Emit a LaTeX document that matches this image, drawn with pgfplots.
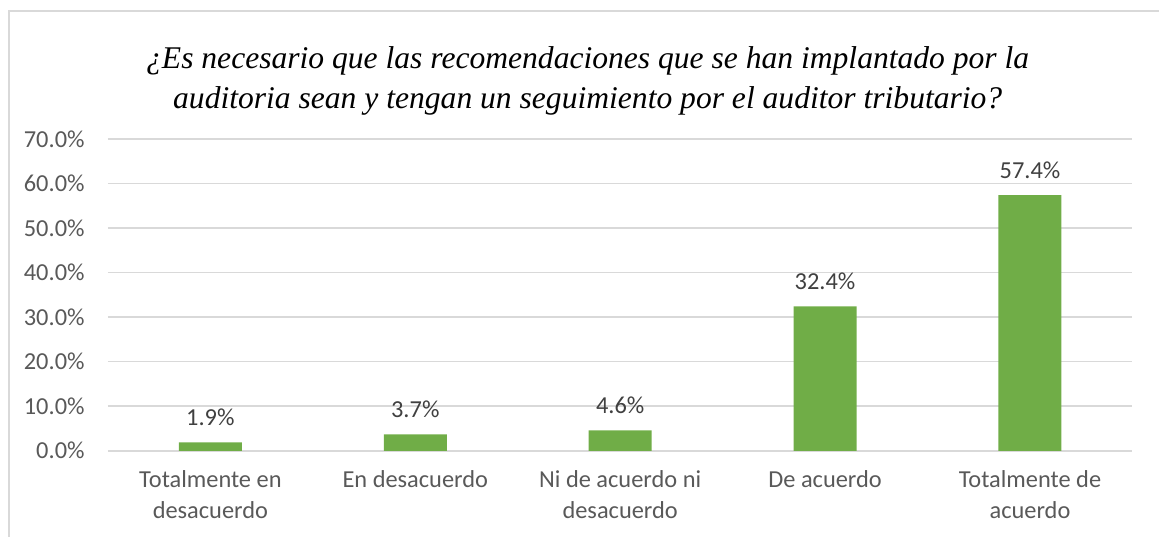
\documentclass[border=0pt]{standalone}
\usepackage{pgfplots}
\pgfplotsset{compat=1.18}
\usepackage{fontspec}
\setmainfont{Carlito}
\newfontfamily\titlefont{Liberation Serif}
\definecolor{bargreen}{HTML}{70AD47}
\definecolor{gridc}{HTML}{D9D9D9}
\definecolor{tickc}{HTML}{595959}
\definecolor{labc}{HTML}{404040}

\begin{document}
\begin{tikzpicture}
\begin{axis}[at={(0pt,0pt)}, anchor=south west, scale only axis,
  width=512.5pt, height=156pt,
  xmin=-0.5, xmax=4.5, ymin=0, ymax=70,
  ytick={0,10,...,70}, xtick={0,1,2,3,4},
  xticklabels={{Totalmente en\\desacuerdo},{En desacuerdo},{Ni de acuerdo ni\\desacuerdo},{De acuerdo},{Totalmente de\\acuerdo}},
  axis line style={draw=none}, major tick length=0pt,
  ymajorgrids, grid style={gridc, line width=0.8pt},
  /pgf/number format/assume math mode=true,
  yticklabel={\pgfmathprintnumber[fixed,fixed zerofill,precision=1]{\tick}\%},
  yticklabel style={font=\fontsize{12.2}{13}\selectfont, text=tickc, anchor=east, inner sep=0pt, xshift=-11.5pt},
  xticklabel style={font=\fontsize{12.2}{15.5}\selectfont, text=tickc, align=center, anchor=north, inner sep=0pt, yshift=-9.5pt},
  ybar, bar width=31.5pt,
  nodes near coords={\pgfmathprintnumber[fixed,fixed zerofill,precision=1]{\pgfplotspointmeta}\%},
  nodes near coords style={font=\fontsize{12.2}{13}\selectfont, text=labc, anchor=base, yshift=8.5pt, inner sep=0pt},
]
\addplot[fill=bargreen, draw=none] coordinates {(0,1.9) (1,3.7) (2,4.6) (3,32.4) (4,57.4)};
\end{axis}
% picture extent: 1160x537 px at 0.5pt per px, plot box corner at (54pt,43pt)
\path (-54pt,-43pt) rectangle (526pt,225.5pt);
% chart frame (only left and top edges fall inside the picture)
\draw[gridc, line width=0.6pt] (-49.5pt,-43pt) -- (-49.5pt,220pt) -- (526pt,220pt);
\node[font=\titlefont\itshape\fontsize{15.8}{20}\selectfont, align=center, text=black]
  at (240pt,185pt) {¿Es necesario que las recomendaciones que se han implantado por la\\auditoria sean y tengan un seguimiento por el auditor tributario?};
\end{tikzpicture}
\end{document}
